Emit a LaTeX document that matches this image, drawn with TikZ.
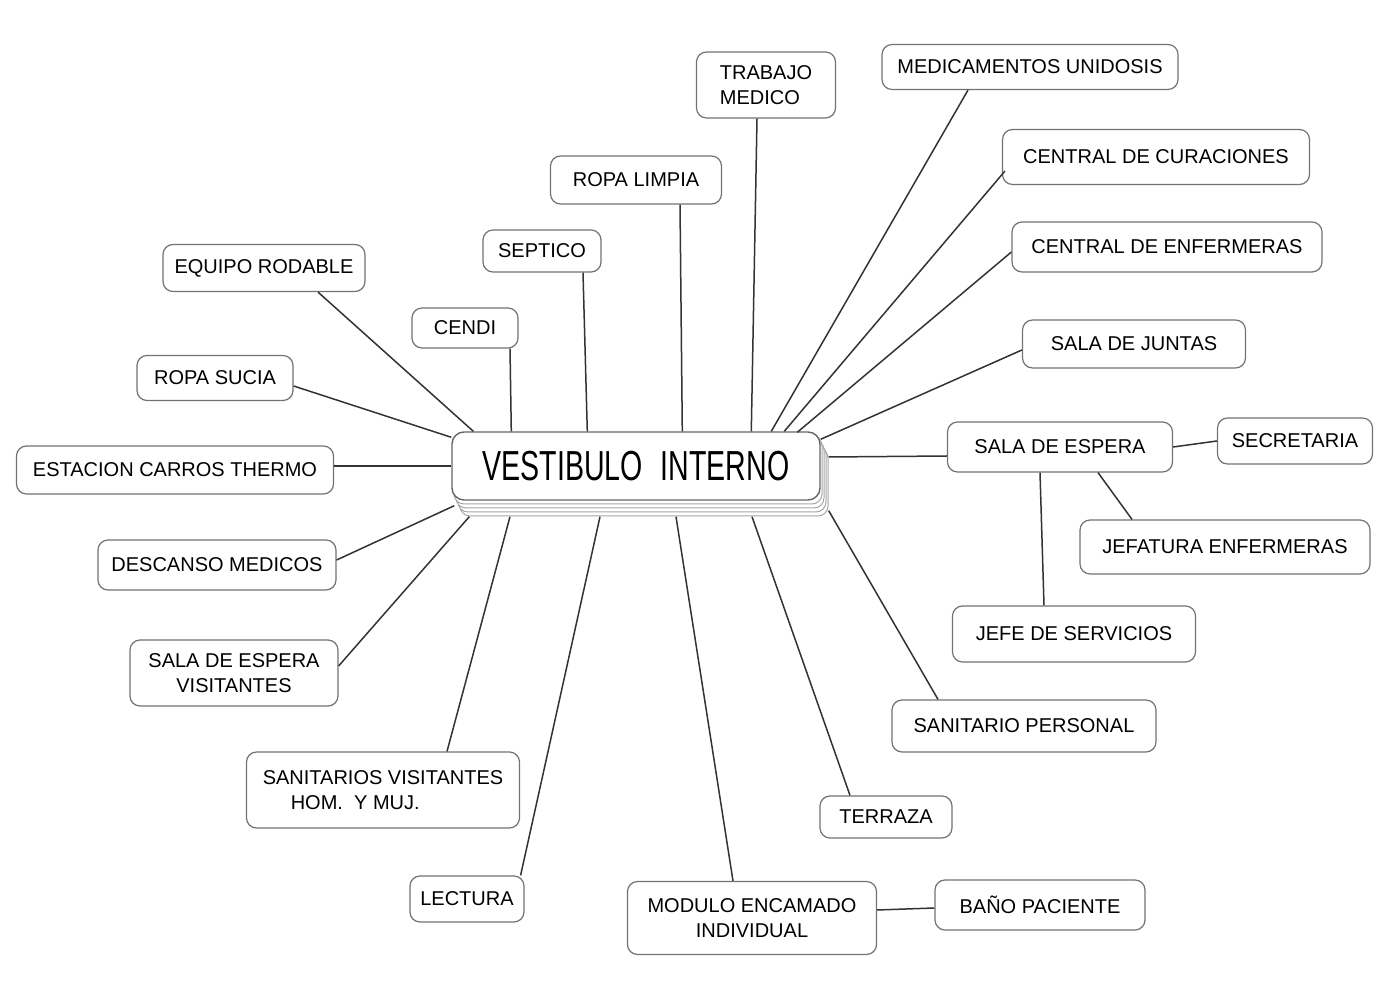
\documentclass[tikz,border=0pt]{standalone}
\usepackage{fontspec}
\setmainfont{Liberation Sans}
\newfontfamily\centerfont[FakeStretch=0.68]{Liberation Sans}
\usetikzlibrary{calc}
\tikzset{
  box/.style={draw=black!55, line width=0.6pt, rounded corners=5pt, fill=white,
    inner sep=2pt, align=center, font=\fontsize{10}{12.5}\selectfont},
  centerbox/.style={draw=black!60, line width=0.7pt, rounded corners=6pt, fill=white,
    minimum width=184pt, minimum height=34pt, font=\centerfont\fontsize{21}{24}\selectfont},
  stackline/.style={draw=black!35, line width=0.5pt, rounded corners=5pt, fill=white},
  link/.style={draw=black!80, line width=0.75pt}
}
\begin{document}
\begin{tikzpicture}[x=0.5pt,y=-0.5pt]
\useasboundingbox[fill=white] (0,0) rectangle (1398,1004);

% stacked sheets under the centre box
\foreach \k in {8,6,4,2}{
  \draw[stackline] (452+\k,432+2*\k) rectangle (820+\k,500+2*\k);
}
% centre
\node[centerbox] (vest) at (636,466) {VESTIBULO\hspace{9pt}INTERNO};

% boxes
\node[box, minimum width=69.5pt, minimum height=33pt, align=left] (trab) at (766,85) {TRABAJO\\MEDICO};
\node[box, minimum width=148pt, minimum height=22.5pt] (medi) at (1030,67) {MEDICAMENTOS UNIDOSIS};
\node[box, minimum width=153.5pt, minimum height=27.5pt] (cura) at (1156,157) {CENTRAL DE CURACIONES};
\node[box, minimum width=155pt, minimum height=25pt] (enf) at (1167,247) {CENTRAL DE ENFERMERAS};
\node[box, minimum width=111.5pt, minimum height=24pt] (junt) at (1134,344) {SALA DE JUNTAS};
\node[box, minimum width=112.5pt, minimum height=25pt] (esp) at (1060,447) {SALA DE ESPERA};
\node[box, minimum width=77.5pt, minimum height=23pt] (secr) at (1295,441) {SECRETARIA};
\node[box, minimum width=145pt, minimum height=27pt] (jefa) at (1225,547) {JEFATURA ENFERMERAS};
\node[box, minimum width=121.5pt, minimum height=28pt] (jefe) at (1074,634) {JEFE DE SERVICIOS};
\node[box, minimum width=132pt, minimum height=26pt] (sanp) at (1024,726) {SANITARIO PERSONAL};
\node[box, minimum width=66pt, minimum height=21pt] (terr) at (886,817) {TERRAZA};
\node[box, minimum width=105pt, minimum height=25pt] (bano) at (1040,905) {BAÑO PACIENTE};
\node[box, minimum width=124.5pt, minimum height=36.5pt] (modu) at (752,918) {MODULO ENCAMADO\\INDIVIDUAL};
\node[box, minimum width=57pt, minimum height=23pt] (lect) at (467,899) {LECTURA};
\node[box, minimum width=136.5pt, minimum height=38pt, align=left] (sanv) at (383,790) {SANITARIOS VISITANTES\\\hspace{14pt}HOM.\ \ Y MUJ.};
\node[box, minimum width=104pt, minimum height=33pt] (svis) at (234,673) {SALA DE ESPERA\\VISITANTES};
\node[box, minimum width=119pt, minimum height=25pt] (desc) at (217,565) {DESCANSO MEDICOS};
\node[box, minimum width=158.5pt, minimum height=24pt] (esta) at (175,470) {ESTACION CARROS THERMO};
\node[box, minimum width=78pt, minimum height=22.5pt] (rsuc) at (215,378) {ROPA SUCIA};
\node[box, minimum width=101pt, minimum height=23.5pt] (equi) at (264,268) {EQUIPO RODABLE};
\node[box, minimum width=53pt, minimum height=20pt] (cendi) at (465,328) {CENDI};
\node[box, minimum width=59pt, minimum height=21pt] (sept) at (542,251) {SEPTICO};
\node[box, minimum width=85.5pt, minimum height=24pt] (rlim) at (636,180) {ROPA LIMPIA};

% connectors
\draw[link] ($(trab.south)+(-9,0)$) -- ($(vest.north west)+(300,0)$);
\draw[link] ($(medi.south)+(-62,0)$) -- ($(vest.north west)+(320,0)$);
\draw[link] ($(cura.south west)+(3,-14)$) -- ($(vest.north west)+(333,0)$);
\draw[link] ($(enf.west)+(0,5)$) -- ($(vest.north west)+(346,1)$);
\draw[link] ($(junt.west)+(0,6)$) -- ($(vest.north east)+(0,8)$);
\draw[link] ($(esp.west)+(0,9)$) -- ($(vest.east)+(8,-9)$);
\draw[link] (esp.east) -- (secr.west);
\draw[link] ($(esp.south)+(38,0)$) -- ($(jefa.north)+(-93,0)$);
\draw[link] ($(esp.south)+(-20,0)$) -- ($(jefe.north)+(-30,0)$);
\draw[link] ($(sanp.north)+(-86,0)$) -- ($(vest.south east)+(8,10)$);
\draw[link] ($(terr.north)+(-36,0)$) -- ($(vest.south)+(116,16)$);
\draw[link] ($(modu.north)+(-19,0)$) -- ($(vest.south)+(40,16)$);
\draw[link] ($(modu.east)+(0,-8)$) -- ($(bano.west)+(0,3)$);
\draw[link] ($(lect.north east)+(-4,0)$) -- ($(vest.south)+(-36,16)$);
\draw[link] ($(sanv.north)+(64,0)$) -- ($(vest.south)+(-126,16)$);
\draw[link] ($(svis.east)+(0,-7)$) -- ($(vest.south west)+(18,16)$);
\draw[link] ($(desc.east)+(0,-5)$) -- ($(vest.south west)+(3,5)$);
\draw[link] ($(esta.east)+(0,-4)$) -- (vest.west);
\draw[link] ($(rsuc.east)+(0,8)$) -- ($(vest.north west)+(0,6)$);
\draw[link] ($(equi.south)+(54,0)$) -- ($(vest.north west)+(22,0)$);
\draw[link] ($(cendi.south)+(45,0)$) -- ($(vest.north west)+(60,0)$);
\draw[link] ($(sept.south)+(41,0)$) -- ($(vest.north west)+(136,0)$);
\draw[link] ($(rlim.south)+(44,0)$) -- ($(vest.north west)+(231,0)$);
\end{tikzpicture}
\end{document}
